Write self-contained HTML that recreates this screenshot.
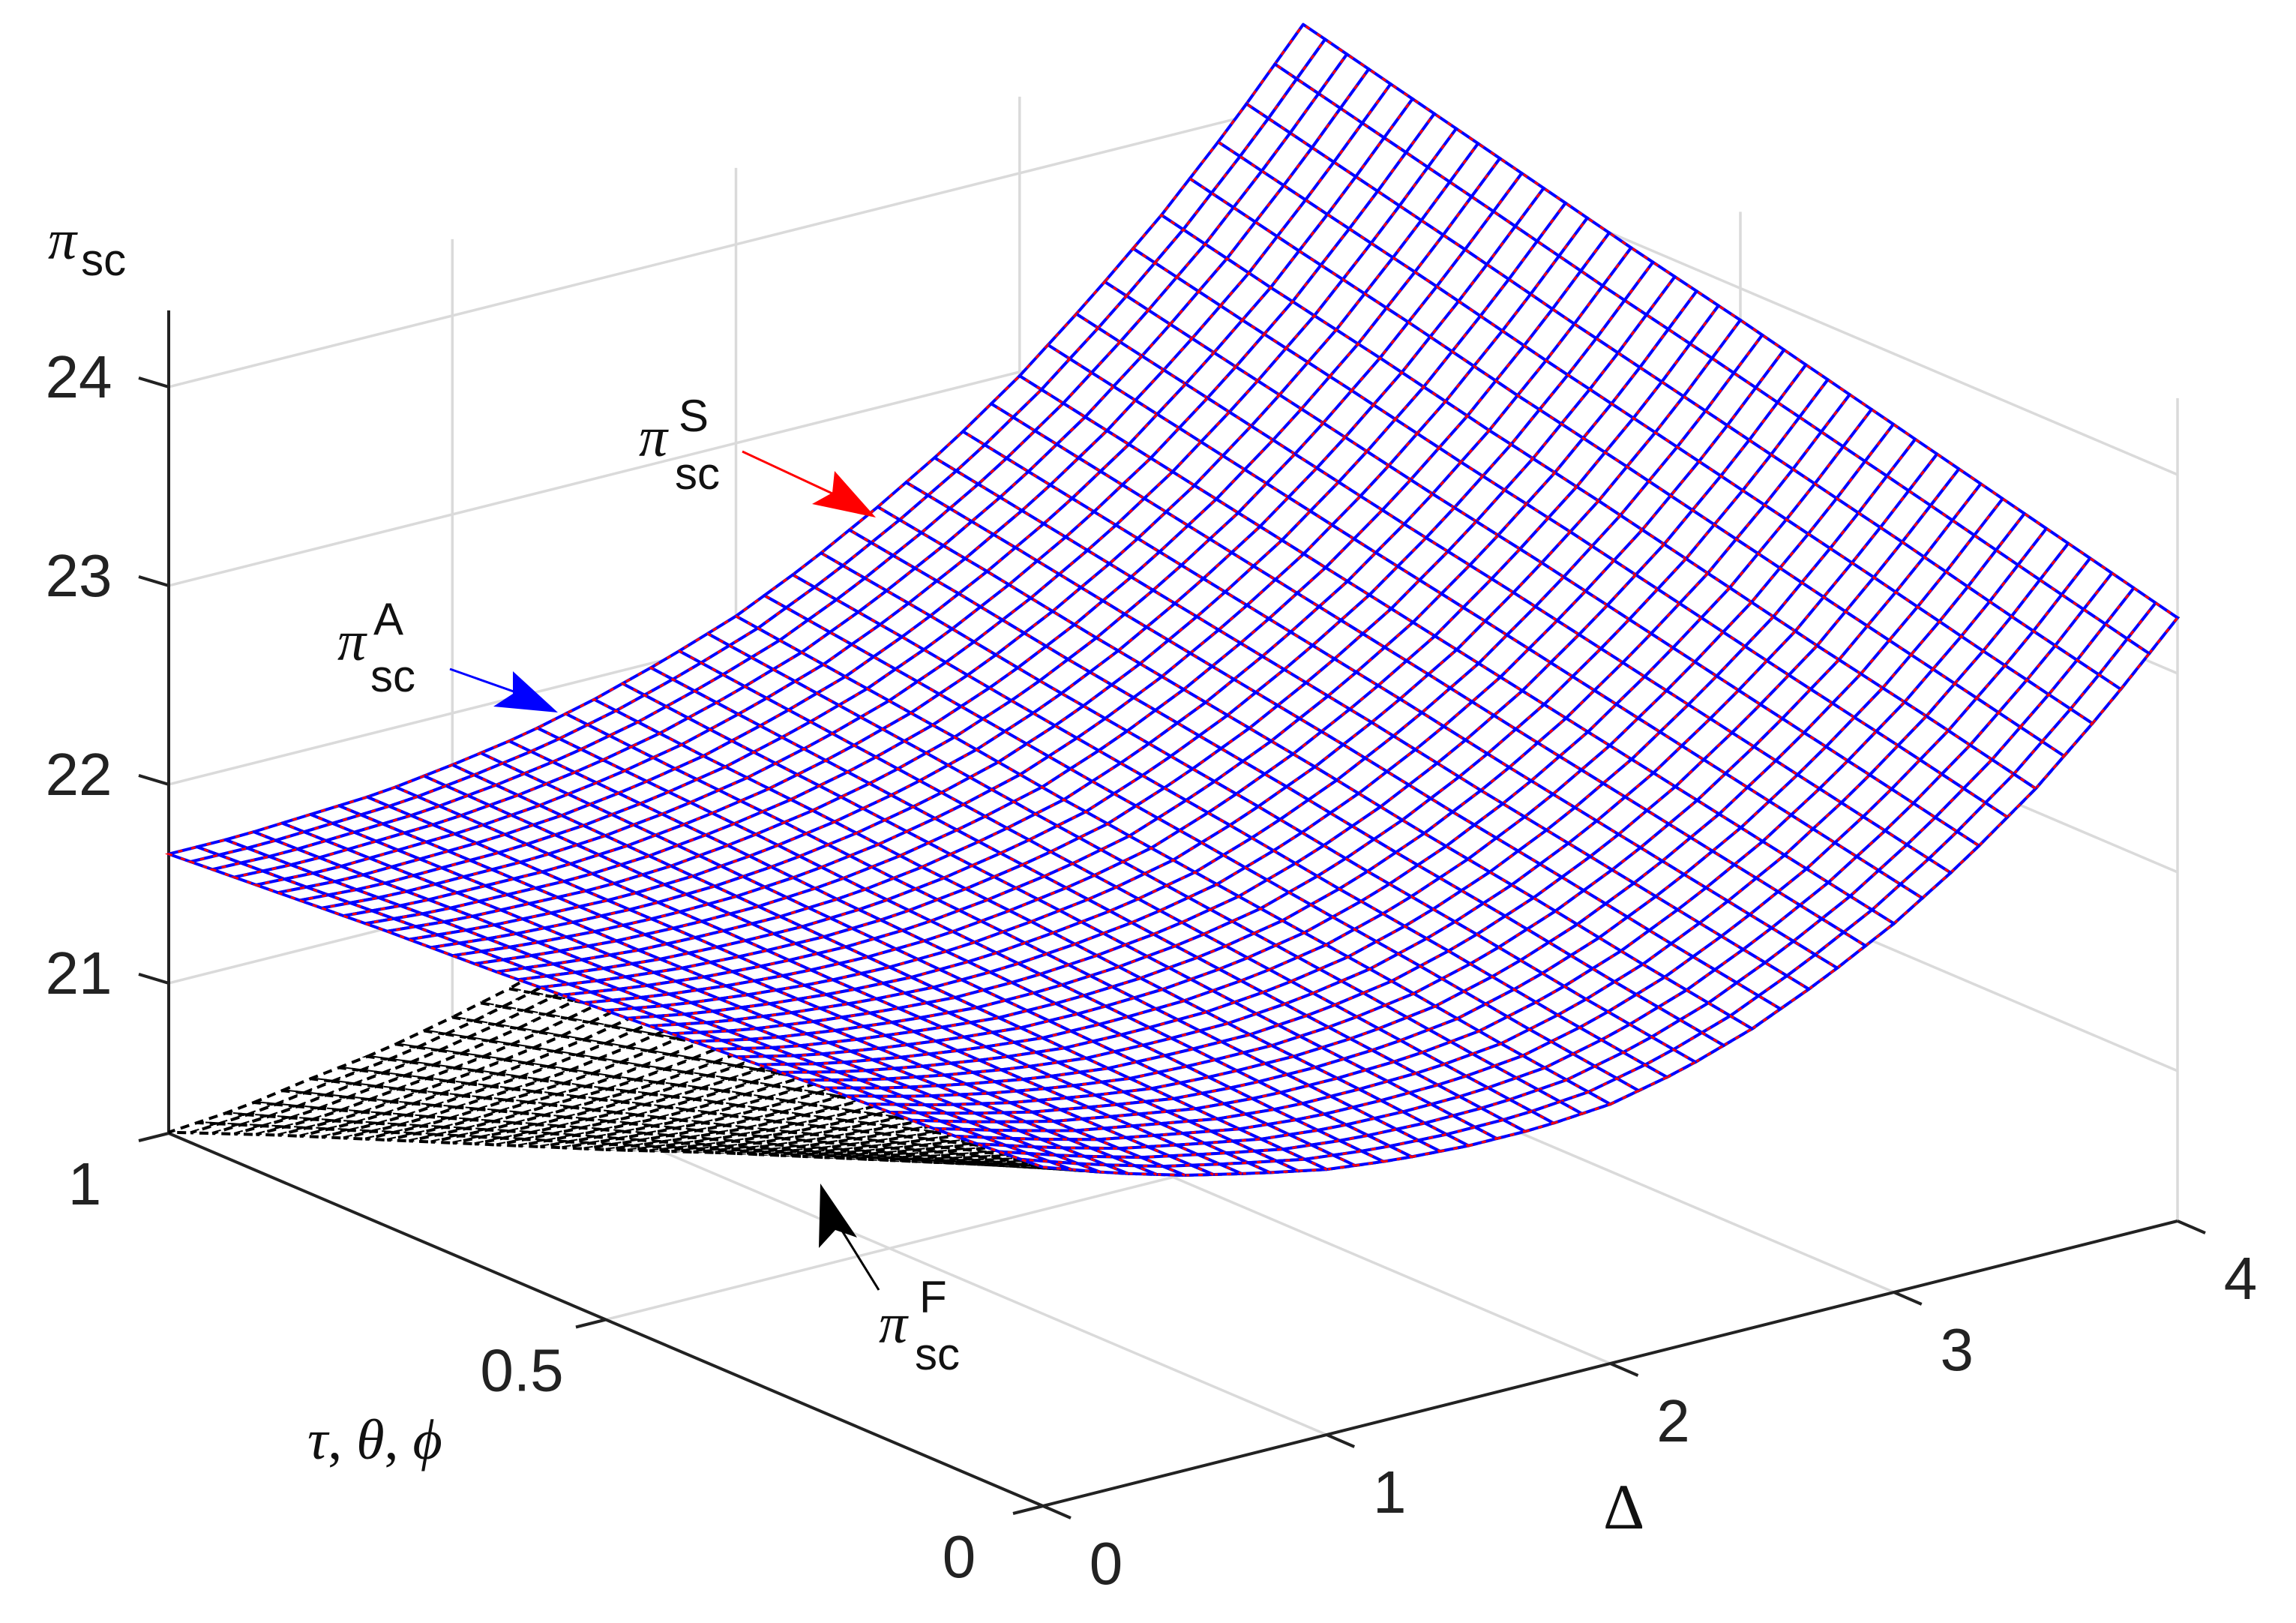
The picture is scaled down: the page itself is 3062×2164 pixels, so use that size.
<!DOCTYPE html>
<html>
<head>
<meta charset="utf-8">
<style>
  html, body { margin:0; padding:0; background:#fff; }
  body { width:3062px; height:2164px; overflow:hidden; }
  svg { display:block; }
  .tick { font-family:"Liberation Sans", sans-serif; font-size:80px; fill:#222; }
  .pi { font-family:"Liberation Serif", serif; font-style:italic; font-size:76px; fill:#111; }
  .sub { font-family:"Liberation Sans", sans-serif; font-style:normal; font-size:60px; fill:#111; }
</style>
</head>
<body>
<svg id="chart" width="3062" height="2164" viewBox="0 0 3062 2164" xmlns="http://www.w3.org/2000/svg">
  <g id="walls"></g>
  <g id="axes"></g>
  <g id="surfF"></g>
  <g id="surfA"></g>
  <g id="labels"></g>

  <text class="pi" x="64" y="345">π<tspan class="sub" dx="6" dy="22">sc</tspan></text>

  <g>
    <text class="pi" x="852" y="608">π</text>
    <text class="sub" x="905" y="575">S</text>
    <text class="sub" x="900" y="652">sc</text>
    <line x1="990" y1="602" x2="1125" y2="665" stroke="#ff0000" stroke-width="3"/>
    <polygon points="1168,690 1083,672 1110,657 1113,628" fill="#ff0000"/>
  </g>
  <g>
    <text class="pi" x="450" y="880">π</text>
    <text class="sub" x="498" y="846">A</text>
    <text class="sub" x="494" y="922">sc</text>
    <line x1="600" y1="892" x2="702" y2="928" stroke="#0000ff" stroke-width="3"/>
    <polygon points="744,950 658,942 684,925 684,895" fill="#0000ff"/>
  </g>
  <g>
    <text class="pi" x="1172" y="1790">π</text>
    <text class="sub" x="1226" y="1750">F</text>
    <text class="sub" x="1220" y="1826">sc</text>
    <line x1="1172" y1="1720" x2="1110" y2="1620" stroke="#000" stroke-width="3"/>
    <polygon points="1094,1578 1143,1650 1114,1640 1092,1664" fill="#000"/>
  </g>

  <text class="pi" x="410" y="1945">τ<tspan font-style="normal">, </tspan>θ<tspan font-style="normal">, </tspan>ϕ</text>
  <text x="2138" y="2038" font-family="Liberation Serif, serif" font-size="86" fill="#111">Δ</text>
</svg>

<script>
// ---- data ----
const deltaVals = [0,0.25,0.5,0.75,1,1.25,1.5,1.75,2,2.25,2.5,2.75,3,3.25,3.5,3.75,4];
const tauVals = [0,0.125,0.25,0.375,0.5,0.625,0.75,0.875,1];
const piA = [
 [21.95,21.83,21.73,21.65,21.58,21.54,21.52,21.52,21.55,21.63,21.75,21.91,22.10,22.33,22.60,22.92,23.28],
 [21.91,21.81,21.72,21.66,21.60,21.57,21.57,21.58,21.62,21.71,21.84,22.01,22.21,22.45,22.73,23.05,23.42],
 [21.88,21.79,21.72,21.66,21.62,21.61,21.61,21.64,21.70,21.80,21.94,22.11,22.32,22.57,22.85,23.19,23.56],
 [21.84,21.76,21.71,21.67,21.64,21.64,21.66,21.70,21.77,21.88,22.03,22.21,22.43,22.69,22.98,23.32,23.70],
 [21.80,21.74,21.70,21.67,21.66,21.67,21.71,21.76,21.84,21.97,22.13,22.32,22.54,22.81,23.11,23.45,23.84],
 [21.76,21.72,21.69,21.68,21.68,21.70,21.75,21.82,21.91,22.05,22.22,22.42,22.65,22.92,23.23,23.58,23.97],
 [21.73,21.70,21.69,21.68,21.70,21.74,21.80,21.88,21.99,22.13,22.31,22.52,22.76,23.04,23.36,23.72,24.11],
 [21.69,21.67,21.68,21.69,21.72,21.77,21.84,21.94,22.06,22.22,22.41,22.62,22.87,23.16,23.48,23.85,24.25],
 [21.65,21.65,21.67,21.69,21.74,21.80,21.89,22.00,22.13,22.30,22.50,22.72,22.98,23.28,23.61,23.98,24.39]
];
const piS = [
 [21.95,21.83,21.73,21.65,21.58,21.54,21.52,21.52,21.55,21.63,21.75,21.91,22.10,22.33,22.60,22.92,23.28],
 [21.91,21.81,21.72,21.66,21.60,21.57,21.57,21.58,21.62,21.71,21.84,22.01,22.21,22.45,22.73,23.05,23.42],
 [21.88,21.79,21.72,21.66,21.62,21.61,21.61,21.64,21.70,21.80,21.94,22.11,22.32,22.57,22.85,23.19,23.56],
 [21.84,21.76,21.71,21.67,21.64,21.64,21.66,21.70,21.77,21.88,22.03,22.21,22.43,22.69,22.98,23.32,23.70],
 [21.80,21.74,21.70,21.67,21.66,21.67,21.71,21.76,21.84,21.97,22.13,22.32,22.54,22.81,23.11,23.45,23.84],
 [21.76,21.72,21.69,21.68,21.68,21.70,21.75,21.82,21.91,22.05,22.22,22.42,22.65,22.92,23.23,23.58,23.97],
 [21.73,21.70,21.69,21.68,21.70,21.74,21.80,21.88,21.99,22.13,22.31,22.52,22.76,23.04,23.36,23.72,24.11],
 [21.69,21.67,21.68,21.69,21.72,21.77,21.84,21.94,22.06,22.22,22.41,22.62,22.87,23.16,23.48,23.85,24.25],
 [21.65,21.65,21.67,21.69,21.74,21.80,21.89,22.00,22.13,22.30,22.50,22.72,22.98,23.28,23.61,23.98,24.39]
];
const piF = [
 [21.95,21.83,21.73,21.65,21.58,21.54,21.52,21.52,21.55,21.63,21.75,21.91,22.10,22.33,22.60,22.92,23.28],
 [21.74,21.64,21.55,21.50,21.44,21.41,21.42,21.43,21.48,21.57,21.71,21.88,22.08,22.33,22.61,22.94,23.31],
 [21.53,21.45,21.39,21.33,21.30,21.30,21.31,21.35,21.42,21.52,21.67,21.85,22.07,22.33,22.61,22.96,23.34],
 [21.32,21.25,21.21,21.18,21.16,21.18,21.21,21.26,21.34,21.47,21.63,21.82,22.05,22.32,22.63,22.98,23.37],
 [21.10,21.06,21.03,21.02,21.03,21.05,21.11,21.17,21.27,21.42,21.59,21.80,22.04,22.32,22.64,22.99,23.40],
 [20.89,20.87,20.86,20.87,20.89,20.93,21.00,21.09,21.20,21.36,21.55,21.77,22.02,22.31,22.64,23.01,23.42],
 [20.68,20.67,20.69,20.70,20.75,20.81,20.90,21.00,21.14,21.30,21.50,21.74,22.00,22.31,22.65,23.04,23.45],
 [20.47,20.47,20.51,20.55,20.61,20.69,20.79,20.91,21.06,21.25,21.47,21.71,21.99,22.31,22.65,23.05,23.48],
 [20.25,20.28,20.34,20.39,20.47,20.56,20.69,20.83,20.99,21.19,21.43,21.68,21.97,22.30,22.67,23.07,23.51]
];
const zTicks = [21,22,23,24];
const zTickLabels = ["21","22","23","24"];
const tauTicks = [0,0.5,1];
const tauTickLabels = ["0","0.5","1"];
const deltaTicks = [0,1,2,3,4];
const deltaTickLabels = ["0","1","2","3","4"];

// ---- axis functions ----
const Z_MIN = 20.245, Z_MAX = 24.385;
const D_MAX = 4, T_MAX = 1;
function px(d, t) { return 1391 + 378.25 * d - 1166 * t; }
function py(d, t, z) { return 2008 - 95 * d - 497 * t - 265 * (z - Z_MIN); }
const NS = "http://www.w3.org/2000/svg";
function mk(tag, attrs, parent) {
  const el = document.createElementNS(NS, tag);
  for (const k in attrs) el.setAttribute(k, attrs[k]);
  parent.appendChild(el);
  return el;
}
function seg(parent, a, b, stroke, w, name) {
  const el = mk('line', {x1:px(a[0],a[1]).toFixed(1), y1:py(a[0],a[1],a[2]).toFixed(1),
    x2:px(b[0],b[1]).toFixed(1), y2:py(b[0],b[1],b[2]).toFixed(1), stroke:stroke, 'stroke-width':w}, parent);
  
  
  return el;
}

// ---- walls / grid ----
const walls = document.getElementById('walls');
const GC = '#dadada';
[1,2,3].forEach(d => {
  seg(walls, [d,0,Z_MIN], [d,1,Z_MIN], GC, 3.5, 'floor-gridline');
  seg(walls, [d,1,Z_MIN], [d,1,Z_MAX], GC, 3.5, 'back-wall-gridline');
});
seg(walls, [0,0.5,Z_MIN], [4,0.5,Z_MIN], GC, 3.5, 'floor-gridline');
seg(walls, [4,0.5,Z_MIN], [4,0.5,Z_MAX], GC, 3.5, 'side-wall-gridline');
seg(walls, [4,0,Z_MIN], [4,0,Z_MAX], GC, 3.5, 'side-wall-edge');
seg(walls, [4,1,Z_MIN], [4,1,Z_MAX], GC, 3.5, 'wall-corner-edge');
zTicks.forEach(z => {
  seg(walls, [0,1,z], [4,1,z], GC, 3.5, 'back-wall-gridline');
  seg(walls, [4,1,z], [4,0,z], GC, 3.5, 'side-wall-gridline');
});

// ---- axes ----
const axes = document.getElementById('axes');
const AC = '#222';
seg(axes, [0,1,Z_MIN], [0,1,Z_MAX], AC, 4, 'z-axis-line');
seg(axes, [0,1,Z_MIN], [0,0,Z_MIN], AC, 4, 'tau-axis-line');
seg(axes, [0,0,Z_MIN], [4,0,Z_MIN], AC, 4, 'delta-axis-line');
const labels = document.getElementById('labels');
zTicks.forEach((z, i) => {
  const x = px(0,1), y = py(0,1,z);
  const t = mk('line', {x1:x, y1:y, x2:x-40, y2:y-12, stroke:AC, 'stroke-width':4}, axes);
  
  
  const tx = mk('text', {x:x-120, y:y+14, 'class':'tick', 'text-anchor':'middle'}, labels);
  tx.textContent = zTickLabels[i];
  
  
});
tauTicks.forEach((tv, i) => {
  const x = px(0,tv), y = py(0,tv,Z_MIN);
  const t = mk('line', {x1:x, y1:y, x2:x-40, y2:y+10, stroke:AC, 'stroke-width':4}, axes);
  
  
  const tx = mk('text', {x:x-112, y:y+95, 'class':'tick', 'text-anchor':'middle'}, labels);
  tx.textContent = tauTickLabels[i];
  
  
});
deltaTicks.forEach((dv, i) => {
  const x = px(dv,0), y = py(dv,0,Z_MIN);
  const t = mk('line', {x1:x, y1:y, x2:x+37, y2:y+16, stroke:AC, 'stroke-width':4}, axes);
  
  
  const tx = mk('text', {x:x+84, y:y+104, 'class':'tick', 'text-anchor':'middle'}, labels);
  tx.textContent = deltaTickLabels[i];
  
  
});

// ---- surfaces ----
function zAt(arr, d, t) {
  let i = 0; while (i < deltaVals.length - 2 && d > deltaVals[i+1]) i++;
  let j = 0; while (j < tauVals.length - 2 && t > tauVals[j+1]) j++;
  const u = (d - deltaVals[i]) / (deltaVals[i+1] - deltaVals[i]);
  const v = (t - tauVals[j]) / (tauVals[j+1] - tauVals[j]);
  return arr[j][i]*(1-u)*(1-v) + arr[j][i+1]*u*(1-v) + arr[j+1][i]*(1-u)*v + arr[j+1][i+1]*u*v;
}
const ND = 40, NT = 40;
function quads(arr) {
  const q = [];
  for (let a = 0; a < ND; a++) for (let b = 0; b < NT; b++) {
    const d0 = D_MAX*a/ND, d1 = D_MAX*(a+1)/ND, t0 = T_MAX*b/NT, t1 = T_MAX*(b+1)/NT;
    const pts = [[d0,t0],[d1,t0],[d1,t1],[d0,t1]].map(p =>
      px(p[0],p[1]).toFixed(1) + ',' + py(p[0],p[1],zAt(arr,p[0],p[1])).toFixed(1)).join(' ');
    q.push({key: 95*(d0+d1)/2 + 497*(t0+t1)/2, pts: pts});
  }
  q.sort((m, n) => n.key - m.key);
  return q;
}
const gF = document.getElementById('surfF');
quads(piF).forEach(q => {
  const p = mk('polygon', {points:q.pts, fill:'#fff', stroke:'#000', 'stroke-width':4, 'stroke-dasharray':'12 8'}, gF);
  
  
});
const gA = document.getElementById('surfA');
const qA = quads(piA), qS = quads(piS);
qA.forEach((q, k) => {
  const p = mk('polygon', {points:q.pts, fill:'#fff', stroke:'#0000ff', 'stroke-width':4, 'stroke-linejoin':'round'}, gA);
  
  
  const s = mk('polygon', {points:qS[k].pts, fill:'none', stroke:'#ff0000', 'stroke-width':3, 'stroke-dasharray':'6 12'}, gA);
  
  
});
</script>
</body>
</html>
